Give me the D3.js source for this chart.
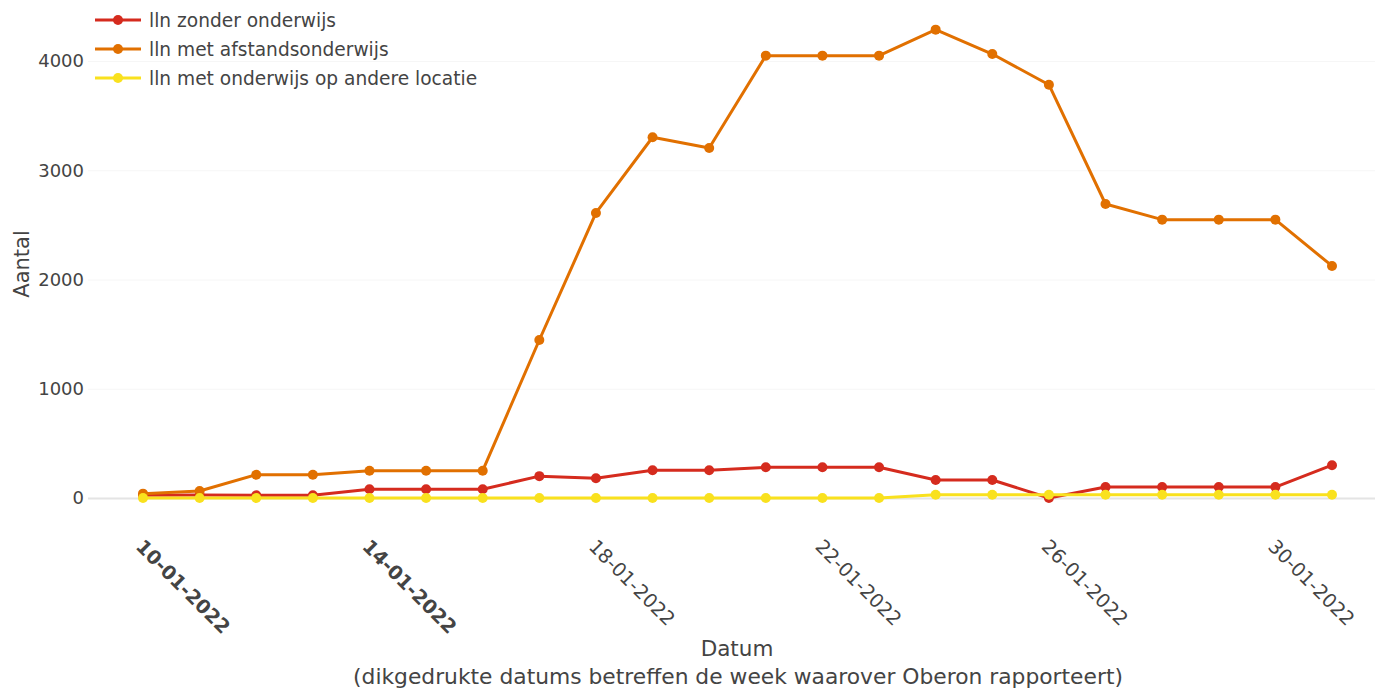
<!DOCTYPE html>
<html>
<head>
<meta charset="utf-8">
<script src="https://cdn.jsdelivr.net/npm/d3@7"></script>
<style>
  html, body { margin: 0; padding: 0; background: #fff; }
  svg, svg text { font-family: "DejaVu Sans", Verdana, sans-serif; }
</style>
</head>
<body>
<svg id="chart" width="1383" height="691"></svg>
<script>
const dates = ["10-01-2022","11-01-2022","12-01-2022","13-01-2022","14-01-2022","15-01-2022","16-01-2022",
  "17-01-2022","18-01-2022","19-01-2022","20-01-2022","21-01-2022","22-01-2022","23-01-2022","24-01-2022",
  "25-01-2022","26-01-2022","27-01-2022","28-01-2022","29-01-2022","30-01-2022","31-01-2022"];
const zonderOnderwijs = [25, 28, 25, 25, 80, 80, 80, 200, 180, 254, 254, 281, 281, 281, 165, 165, 0, 100, 100, 100, 100, 300];
const afstandsonderwijs = [40, 64, 213, 213, 250, 250, 250, 1446, 2609, 3302, 3204, 4049, 4049, 4049, 4287, 4064, 3783, 2691, 2548, 2548, 2548, 2124];
const andereLocatie = [0, 0, 0, 0, 0, 0, 0, 0, 0, 0, 0, 0, 0, 0, 30, 30, 30, 30, 30, 30, 30, 30];
const seriesNames = ["lln zonder onderwijs", "lln met afstandsonderwijs", "lln met onderwijs op andere locatie"];
const seriesColors = ["#d52b1e", "#e17000", "#f9e11e"];
const xTickLabels = ["10-01-2022","14-01-2022","18-01-2022","22-01-2022","26-01-2022","30-01-2022"];
const boldTickLabels = ["10-01-2022","14-01-2022"];
const yTicks = [0, 1000, 2000, 3000, 4000];
const yLabel = "Aantal";
const xLabel = "Datum";
const xSubLabel = "(dikgedrukte datums betreffen de week waarover Oberon rapporteert)";

const parse = d3.timeParse("%d-%m-%Y");
const fmt = d3.timeFormat("%d-%m-%Y");
const seriesValues = [zonderOnderwijs, afstandsonderwijs, andereLocatie];
const FONT = '"DejaVu Sans", Verdana, sans-serif';

const svg = d3.select("#chart");
const plotLeft = 88, plotRight = 1375;
const x = d3.scaleTime().domain([parse(dates[0]), parse(dates[dates.length-1])]).range([143, 1332]);
const y = d3.scaleLinear().domain([0, 4000]).range([498, 61]);
const textColor = "#444";

// gridlines
const yAxis = d3.axisLeft(y).tickValues(yTicks).tickSize(-(plotRight - plotLeft)).tickFormat(d3.format("d")).tickPadding(4);
const gy = svg.append("g").attr("transform", `translate(${plotLeft},0)`).call(yAxis).attr("font-family", FONT);
gy.select(".domain").remove();
gy.selectAll(".tick line").attr("stroke", d => d === 0 ? "#e4e4e4" : "#f6f6f6").attr("stroke-width", d => d === 0 ? 2 : 1);
gy.selectAll(".tick text").attr("fill", textColor).style("font-size", "18px").attr("x", -4);

// x axis labels
const xAxis = d3.axisBottom(x).tickValues(xTickLabels.map(parse)).tickSize(0).tickFormat(fmt);
const gx = svg.append("g").attr("transform", "translate(0,543)").call(xAxis).attr("font-family", FONT);
gx.select(".domain").remove();
gx.selectAll(".tick text")
  .attr("fill", textColor)
  .style("font-size", "19.3px")
  .style("font-weight", d => boldTickLabels.includes(fmt(d)) ? "bold" : "normal")
  .attr("text-anchor", "start")
  .attr("y", 0).attr("dy", "0.35em")
  .attr("transform", "translate(-4,0) rotate(45)");

// lines
const line = d3.line().x((d, i) => x(parse(dates[i]))).y(d => y(d));
seriesValues.forEach((vals, s) => {
  const g = svg.append("g");
  g.append("path").datum(vals).attr("d", line).attr("fill", "none")
    .attr("stroke", seriesColors[s]).attr("stroke-width", 3).attr("stroke-linejoin", "round");
  g.selectAll("circle").data(vals).join("circle")
    .attr("cx", (d, i) => x(parse(dates[i]))).attr("cy", d => y(d)).attr("r", 5)
    .attr("fill", seriesColors[s]);
});

// axis titles
svg.append("text").attr("transform", `translate(29,264) rotate(-90)`).attr("text-anchor", "middle")
  .attr("fill", textColor).style("font-size", "21px").text(yLabel);
svg.append("text").attr("x", 737).attr("y", 656).attr("text-anchor", "middle")
  .attr("fill", textColor).style("font-size", "21.5px").text(xLabel);
svg.append("text").attr("x", 738).attr("y", 684).attr("text-anchor", "middle")
  .attr("fill", textColor).style("font-size", "21.8px").text(xSubLabel);

// legend
const legend = svg.append("g");
seriesNames.forEach((name, i) => {
  const yy = 20 + i * 29;
  legend.append("line").attr("x1", 95).attr("x2", 141).attr("y1", yy).attr("y2", yy)
    .attr("stroke", seriesColors[i]).attr("stroke-width", 3);
  legend.append("circle").attr("cx", 118).attr("cy", yy).attr("r", 5).attr("fill", seriesColors[i]);
  legend.append("text").attr("x", 149).attr("y", yy).attr("dy", "0.35em").attr("fill", textColor)
    .style("font-size", "18.6px").text(name);
});
</script>
</body>
</html>
